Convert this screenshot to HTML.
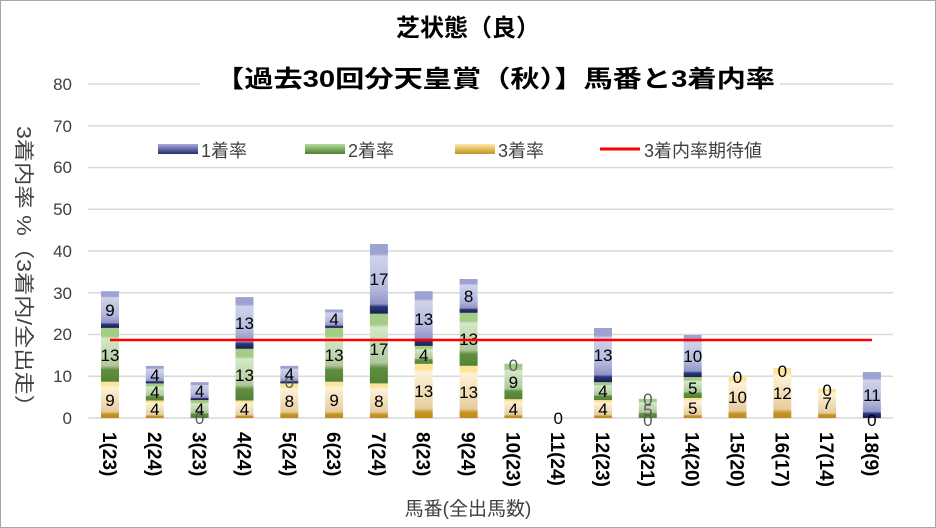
<!DOCTYPE html>
<html><head><meta charset="utf-8"><style>
html,body{margin:0;padding:0;background:#fff}
svg{display:block;font-family:"Liberation Sans","Noto Sans CJK JP",sans-serif}
</style></head><body>
<svg width="936" height="528" viewBox="0 0 936 528" xmlns="http://www.w3.org/2000/svg">
<defs>
<linearGradient id="g1" x1="0" y1="0" x2="0" y2="1">
<stop offset="0" stop-color="#9ca2d2"/><stop offset="0.14" stop-color="#9ca2d2"/><stop offset="0.18" stop-color="#d0d3ea"/><stop offset="0.65" stop-color="#b3b7dc"/><stop offset="0.86" stop-color="#8f95c6"/><stop offset="0.9" stop-color="#2e3580"/><stop offset="1" stop-color="#1a1f4a"/></linearGradient>
<linearGradient id="g2" x1="0" y1="0" x2="0" y2="1">
<stop offset="0" stop-color="#a2cd85"/><stop offset="0.15" stop-color="#a2cd85"/><stop offset="0.2" stop-color="#d5e8c8"/><stop offset="0.7" stop-color="#b0c8a0"/><stop offset="0.78" stop-color="#5f8f3e"/><stop offset="1" stop-color="#548235"/></linearGradient>
<linearGradient id="g3" x1="0" y1="0" x2="0" y2="1">
<stop offset="0" stop-color="#fde497"/><stop offset="0.1" stop-color="#fde497"/><stop offset="0.16" stop-color="#fdf2d6"/><stop offset="0.82" stop-color="#e6cd9f"/><stop offset="0.9" stop-color="#c4921f"/><stop offset="1" stop-color="#bd8c1b"/></linearGradient>
<linearGradient id="lg1" x1="0" y1="0" x2="0" y2="1"><stop offset="0" stop-color="#a6acdb"/><stop offset="1" stop-color="#252c70"/></linearGradient>
<linearGradient id="lg2" x1="0" y1="0" x2="0" y2="1"><stop offset="0" stop-color="#b6dc9c"/><stop offset="1" stop-color="#4f7d31"/></linearGradient>
<linearGradient id="lg3" x1="0" y1="0" x2="0" y2="1"><stop offset="0" stop-color="#fde9a8"/><stop offset="1" stop-color="#c4921f"/></linearGradient>
</defs>
<rect x="0.5" y="0.5" width="935" height="527" fill="#fff" stroke="#a6a6a6"/>
<g stroke="#d9d9d9" stroke-width="1.5">
<line x1="88" y1="418" x2="893" y2="418"/><line x1="88" y1="376.3" x2="893" y2="376.3"/><line x1="88" y1="334.5" x2="893" y2="334.5"/><line x1="88" y1="292.8" x2="893" y2="292.8"/><line x1="88" y1="251" x2="893" y2="251"/><line x1="88" y1="209.3" x2="893" y2="209.3"/><line x1="88" y1="167.5" x2="893" y2="167.5"/><line x1="88" y1="125.8" x2="893" y2="125.8"/><line x1="88" y1="84" x2="893" y2="84"/>
</g>
<g font-size="17" fill="#404040" text-anchor="end">
<text x="72" y="424">0</text><text x="72" y="382">10</text><text x="72" y="340">20</text><text x="72" y="299">30</text><text x="72" y="257">40</text><text x="72" y="215">50</text><text x="72" y="173">60</text><text x="72" y="132">70</text><text x="72" y="90">80</text>
</g>
<rect x="200" y="60" width="580" height="36" fill="#fff"/>
<text x="468" y="36" font-size="24" font-weight="bold" text-anchor="middle" fill="#000">芝状態（良）</text>
<text x="215" y="87" font-size="24" font-weight="bold" fill="#000" textLength="560" lengthAdjust="spacingAndGlyphs">【過去30回分天皇賞（秋）】馬番と3着内率</text>
<rect x="158" y="144" width="40" height="10" fill="url(#lg1)"/><text x="201" y="157" font-size="18" fill="#404040">1着率</text>
<rect x="305" y="144" width="40" height="10" fill="url(#lg2)"/><text x="348" y="157" font-size="18" fill="#404040">2着率</text>
<rect x="455" y="144" width="40" height="10" fill="url(#lg3)"/><text x="498" y="157" font-size="18" fill="#404040">3着率</text>
<line x1="600" y1="149" x2="640" y2="149" stroke="#ff0000" stroke-width="3"/><text x="644" y="157" font-size="18" fill="#404040">3着内率期待値</text>
<text transform="translate(17,126) rotate(90)" font-size="20" fill="#404040" textLength="292" lengthAdjust="spacingAndGlyphs">3着内率 %（3着内/全出走）</text>

<g>
<rect x="101" y="381.7" width="18" height="36.3" fill="url(#g3)"/><rect x="101" y="327.9" width="18" height="53.8" fill="url(#g2)"/><rect x="101" y="291.2" width="18" height="36.7" fill="url(#g1)"/>
<rect x="145.8" y="400.5" width="18" height="17.5" fill="url(#g3)"/><rect x="145.8" y="383.4" width="18" height="17.1" fill="url(#g2)"/><rect x="145.8" y="365.9" width="18" height="17.5" fill="url(#g1)"/>
<rect x="190.6" y="400.1" width="18" height="17.9" fill="url(#g2)"/><rect x="190.6" y="382.2" width="18" height="17.9" fill="url(#g1)"/>
<rect x="235.5" y="400.5" width="18" height="17.5" fill="url(#g3)"/><rect x="235.5" y="348.8" width="18" height="51.7" fill="url(#g2)"/><rect x="235.5" y="297.1" width="18" height="51.7" fill="url(#g1)"/>
<rect x="280.3" y="383.4" width="18" height="34.6" fill="url(#g3)"/><rect x="280.3" y="365.9" width="18" height="17.5" fill="url(#g1)"/>
<rect x="325.1" y="381.7" width="18" height="36.3" fill="url(#g3)"/><rect x="325.1" y="327.9" width="18" height="53.8" fill="url(#g2)"/><rect x="325.1" y="309.5" width="18" height="18.4" fill="url(#g1)"/>
<rect x="369.9" y="383.4" width="18" height="34.6" fill="url(#g3)"/><rect x="369.9" y="313.7" width="18" height="69.7" fill="url(#g2)"/><rect x="369.9" y="244" width="18" height="69.7" fill="url(#g1)"/>
<rect x="414.7" y="363.8" width="18" height="54.2" fill="url(#g3)"/><rect x="414.7" y="345.9" width="18" height="17.9" fill="url(#g2)"/><rect x="414.7" y="291.2" width="18" height="54.7" fill="url(#g1)"/>
<rect x="459.6" y="365.8" width="18" height="52.2" fill="url(#g3)"/><rect x="459.6" y="312.8" width="18" height="53" fill="url(#g2)"/><rect x="459.6" y="279" width="18" height="33.8" fill="url(#g1)"/>
<rect x="504.4" y="399.2" width="18" height="18.8" fill="url(#g3)"/><rect x="504.4" y="363.7" width="18" height="35.5" fill="url(#g2)"/>
<rect x="594" y="400.1" width="18" height="17.9" fill="url(#g3)"/><rect x="594" y="382.2" width="18" height="17.9" fill="url(#g2)"/><rect x="594" y="328" width="18" height="54.2" fill="url(#g1)"/>
<rect x="638.8" y="398.8" width="18" height="19.2" fill="url(#g2)"/>
<rect x="683.7" y="398" width="18" height="20" fill="url(#g3)"/><rect x="683.7" y="377.1" width="18" height="20.9" fill="url(#g2)"/><rect x="683.7" y="335" width="18" height="42.1" fill="url(#g1)"/>
<rect x="728.5" y="376.3" width="18" height="41.7" fill="url(#g3)"/>
<rect x="773.3" y="368" width="18" height="50" fill="url(#g3)"/>
<rect x="818.1" y="388.8" width="18" height="29.2" fill="url(#g3)"/>
<rect x="862.9" y="372.1" width="18" height="45.9" fill="url(#g1)"/>
</g>

<g font-size="17" text-anchor="middle" fill="#000">
<text x="110" y="406">9</text><text x="110" y="361">13</text><text x="110" y="316">9</text>
<text x="154.8" y="415">4</text><text x="154.8" y="398">4</text><text x="154.8" y="381">4</text>
<text x="199.6" y="424" fill="#595959">0</text><text x="199.6" y="415">4</text><text x="199.6" y="397">4</text>
<text x="244.5" y="415">4</text><text x="244.5" y="381">13</text><text x="244.5" y="329">13</text>
<text x="289.3" y="407">8</text><text x="289.3" y="388" fill="#595959">0</text><text x="289.3" y="380">4</text>
<text x="334.1" y="406">9</text><text x="334.1" y="361">13</text><text x="334.1" y="325">4</text>
<text x="378.9" y="407">8</text><text x="378.9" y="355">17</text><text x="378.9" y="285">17</text>
<text x="423.7" y="397">13</text><text x="423.7" y="361">4</text><text x="423.7" y="325">13</text>
<text x="468.6" y="398">13</text><text x="468.6" y="345">13</text><text x="468.6" y="302">8</text>
<text x="513.4" y="415">4</text><text x="513.4" y="388">9</text><text x="513.4" y="371" fill="#595959">0</text>
<text x="558.2" y="424">0</text>
<text x="603" y="415">4</text><text x="603" y="397">4</text><text x="603" y="361">13</text>
<text x="647.8" y="405" fill="#595959">0</text><text x="647.8" y="416" fill="#595959">5</text><text x="647.8" y="426" fill="#595959">0</text>
<text x="692.7" y="414">5</text><text x="692.7" y="394">5</text><text x="692.7" y="362">10</text>
<text x="737.5" y="403">10</text><text x="737.5" y="383">0</text>
<text x="782.3" y="399">12</text><text x="782.3" y="377">0</text>
<text x="827.1" y="409">7</text><text x="827.1" y="396">0</text>
<text x="871.9" y="401">11</text><text x="871.9" y="426">0</text>
</g>

<line x1="110" y1="340" x2="872" y2="340" stroke="#ff0000" stroke-width="2.5"/>

<g font-size="19" font-weight="bold" fill="#000">
<text transform="translate(103,432) rotate(90)">1(23)</text>
<text transform="translate(147.8,432) rotate(90)">2(24)</text>
<text transform="translate(192.6,432) rotate(90)">3(23)</text>
<text transform="translate(237.5,432) rotate(90)">4(24)</text>
<text transform="translate(282.3,432) rotate(90)">5(24)</text>
<text transform="translate(327.1,432) rotate(90)">6(23)</text>
<text transform="translate(371.9,432) rotate(90)">7(24)</text>
<text transform="translate(416.7,432) rotate(90)">8(23)</text>
<text transform="translate(461.6,432) rotate(90)">9(24)</text>
<text transform="translate(506.4,432) rotate(90)">10(23)</text>
<text transform="translate(551.2,432) rotate(90)">11(24)</text>
<text transform="translate(596,432) rotate(90)">12(23)</text>
<text transform="translate(640.8,432) rotate(90)">13(21)</text>
<text transform="translate(685.7,432) rotate(90)">14(20)</text>
<text transform="translate(730.5,432) rotate(90)">15(20)</text>
<text transform="translate(775.3,432) rotate(90)">16(17)</text>
<text transform="translate(820.1,432) rotate(90)">17(14)</text>
<text transform="translate(864.9,432) rotate(90)">18(9)</text>
</g>
<text x="468" y="515" font-size="19" text-anchor="middle" fill="#404040">馬番(全出馬数)</text>
</svg>
</body></html>
